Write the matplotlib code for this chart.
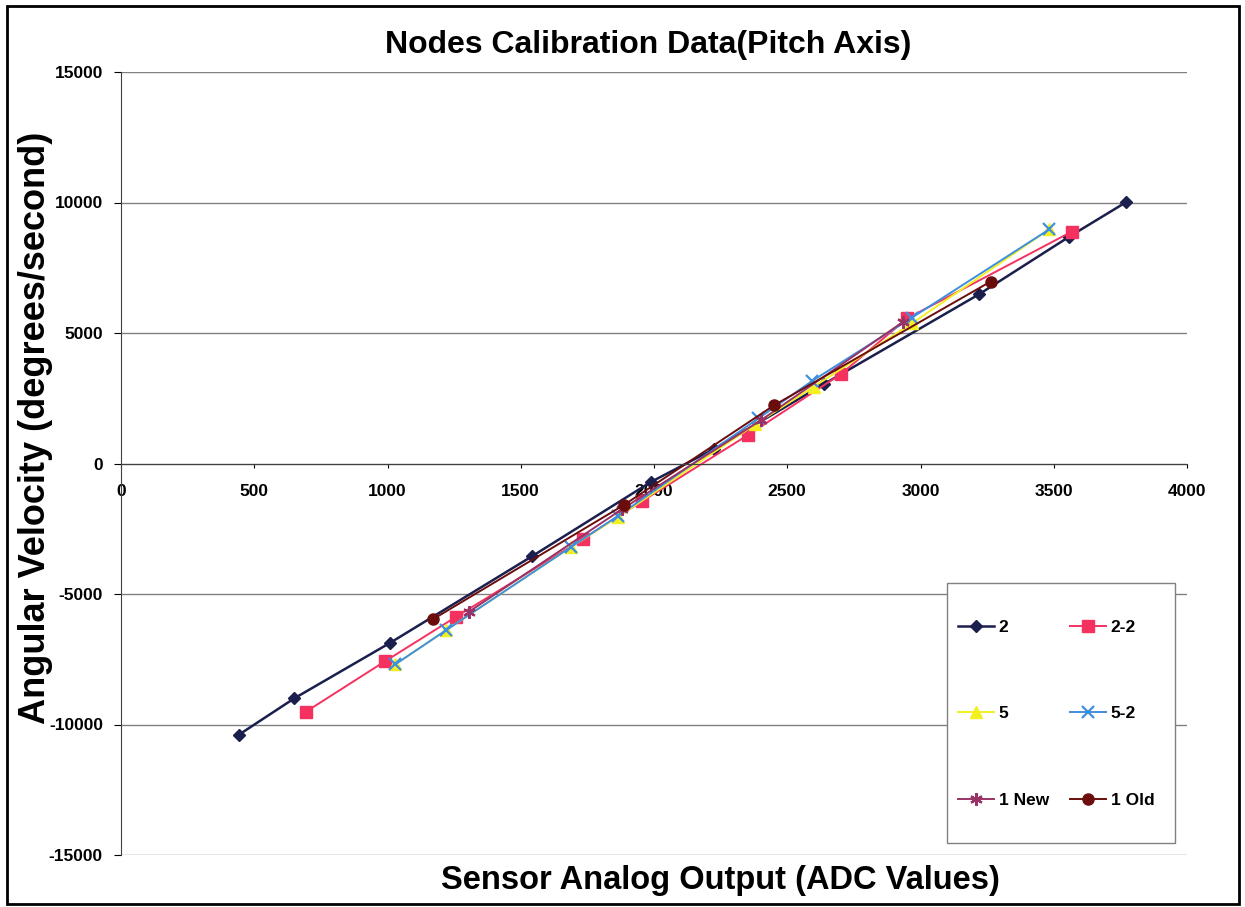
import matplotlib
matplotlib.use('Agg')
import matplotlib.pyplot as plt
from matplotlib.patches import Rectangle

# calibration readings, ADC value vs angular velocity
x_2 = [441, 650, 1010, 1543, 1988, 2226, 2639, 3219, 3558, 3771]
y_2 = [-10400, -9000, -6870, -3550, -710, 560, 3050, 6480, 8690, 10010]

x_22 = [694, 992, 1258, 1732, 1956, 2354, 2702, 2950, 3567]
y_22 = [-9510, -7570, -5870, -2900, -1440, 1100, 3430, 5560, 8880]

x_5 = [1030, 1221, 1687, 1866, 2380, 2599, 2968, 3483]
y_5 = [-7690, -6380, -3210, -2040, 1500, 2940, 5370, 8970]

x_52 = [1030, 1221, 1687, 1866, 2392, 2593, 2968, 3483]
y_52 = [-7690, -6380, -3210, -2000, 1730, 3160, 5590, 8970]

x_1new = [1306, 1880, 2400, 2935]
y_1new = [-5680, -1750, 1650, 5430]

x_1old = [1170, 1887, 2452, 3263]
y_1old = [-5970, -1590, 2240, 6970]

labels = ['2', '2-2', '5', '5-2', '1 New', '1 Old']
xticks = list(range(0, 4001, 500))
yticks = list(range(-15000, 15001, 5000))

plt.rcParams['font.family'] = ['Liberation Sans', 'DejaVu Sans']
plt.rcParams['font.weight'] = 'bold'
plt.rcParams['axes.unicode_minus'] = False

W, H = 1245, 907
fig = plt.figure(figsize=(W / 100, H / 100), dpi=100)
ax = fig.add_axes([121 / W, 1 - 855 / H, (1187 - 121) / W, (855 - 72) / H])

h = []
h += ax.plot(x_2, y_2, color='#1a1f4d', lw=1.8, marker='D', ms=6, label=labels[0])
h += ax.plot(x_22, y_22, color='#f5325f', lw=1.4, marker='s', ms=8, label=labels[1])
h += ax.plot(x_5, y_5, color='#f2f020', lw=1.4, marker='^', ms=8, label=labels[2])
h += ax.plot(x_52, y_52, color='#3d8fe0', lw=1.4, marker='x', ms=8, mew=1.6, label=labels[3])
h += ax.plot(x_1new, y_1new, color='#993366', lw=1.4, marker=(6, 2, 0), ms=9, mew=1.6, label=labels[4])
h += ax.plot(x_1old, y_1old, color='#6b0d0d', lw=1.4, marker='o', ms=8, label=labels[5])

ax.set_xlim(0, 4000)
ax.set_ylim(-15000, 15000)
ax.set_xticks(xticks)
ax.set_yticks(yticks)
ax.grid(axis='y', color='#808080', lw=1)
ax.set_axisbelow(True)
ax.spines['top'].set_visible(False)
ax.spines['right'].set_visible(False)
ax.spines['bottom'].set_position(('data', 0))
ax.spines['bottom'].set_color('#404040')
ax.spines['left'].set_color('#404040')
ax.tick_params(axis='x', direction='out', length=3, pad=12, labelsize=12.5)
ax.tick_params(axis='y', direction='out', length=5, pad=8, labelsize=12.5)

fig.text(648 / W, 1 - 45 / H, 'Nodes Calibration Data(Pitch Axis)', ha='center', va='center', fontsize=23)
fig.text(720 / W, 1 - 881 / H, 'Sensor Analog Output (ADC Values)', ha='center', va='center', fontsize=23.5)
fig.text(36 / W, 1 - 428 / H, 'Angular Velocity (degrees/second)', ha='center', va='center',
         rotation=90, fontsize=26)

# legend box drawn separately so it can be sized like the original
ax.add_patch(Rectangle((947 / W, 1 - 843 / H), 228 / W, 260 / H, transform=fig.transFigure,
                       facecolor='white', edgecolor='#808080', lw=1, zorder=4, clip_on=False))
order = [0, 2, 4, 1, 3, 5]
ax.legend([h[i] for i in order], [labels[i] for i in order], ncol=2, loc='upper left',
          bbox_to_anchor=(958 / W, 1 - 620 / H), bbox_transform=fig.transFigure, frameon=False,
          borderpad=0, borderaxespad=0, handlelength=2.1, handletextpad=0.25, columnspacing=1.2,
          labelspacing=4.1, fontsize=12.5)

fig.patches.append(Rectangle((7 / W, 3 / H), (1239 - 7) / W, (904 - 6) / H, transform=fig.transFigure,
                             fill=False, edgecolor='black', lw=2))

fig.savefig('out.png', dpi=100)
